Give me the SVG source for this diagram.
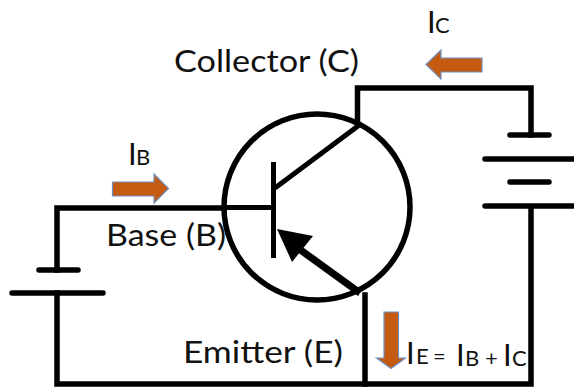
<svg xmlns="http://www.w3.org/2000/svg" width="574" height="389" viewBox="0 0 574 389">
<style>
.w{fill:none;stroke:#000;stroke-width:5.500;stroke-linecap:square;stroke-linejoin:miter}
.t{fill:none;stroke:#000;stroke-width:5;stroke-linecap:butt}
.b{stroke:#000;stroke-width:5.500;stroke-linecap:round}
.a{fill:#c55a11;stroke:#6f8fc4;stroke-width:1.2}
text{font-family:Lato,"Open Sans","Liberation Sans",sans-serif;fill:#111}
.l{font-size:31px}
.s{font-size:22px}
.m{font-size:31px}
</style>
<rect width="574" height="389" fill="#fff"/>
<g id="connectors">
<path class="w" d="M224 208H57V270"/>
<path class="w" d="M57 293V384H531V207"/>
<path class="w" d="M357.500 125V88H531V135"/>
<path class="w" d="M365 295V384"/>
<path class="t" d="M224 207.500H273"/>
<path class="t" d="M275 188L358 126"/>
<path d="M297 243L362 290L358 296L293 249Z" fill="#000"/>
</g>
<g id="transistor">
<circle cx="317" cy="207" r="93" fill="none" stroke="#000" stroke-width="5.500"/>
<path class="t" d="M273.500 162V258"/>
<path d="M277 229L313 236L292 262Z" fill="#000"/>
</g>
<g id="battery-base">
<path class="b" d="M39 270H78M12 293H103"/>
</g>
<g id="battery-collector">
<path class="b" d="M510 135H549M485 159H574M510 182H549M485 206H574"/>
</g>
<g id="current-arrows">
<path class="a" d="M112.500 182H154V174L168.500 188.500L154 203V196H112.500Z"/>
<path class="a" d="M482 58H441V50L426 64.500L441 79V72H482Z"/>
<path class="a" d="M384 312H398.500V358H405.500L391 368.500L376.500 358H384Z"/>
</g>
<g id="labels">
<text class="l" x="174" y="72" textLength="185" lengthAdjust="spacingAndGlyphs">Collector (C)</text>
<text class="l" x="106" y="246" textLength="120" lengthAdjust="spacingAndGlyphs">Base (B)</text>
<text class="l" x="183" y="363" textLength="160" lengthAdjust="spacingAndGlyphs">Emitter (E)</text>
<text class="m" x="128" y="165">I</text><text class="s" x="136" y="165">B</text>
<text class="m" x="427" y="33">I</text><text class="s" x="435" y="33">C</text>
<text class="m" x="406" y="364">I</text><text class="s" x="416" y="364">E</text><text class="s" x="433" y="364">=</text>
<text class="m" x="456" y="366">I</text><text class="s" x="465" y="366">B</text><text class="s" x="485" y="366">+</text>
<text class="m" x="503" y="366">I</text><text class="s" x="512" y="366">C</text>
</g>
</svg>
